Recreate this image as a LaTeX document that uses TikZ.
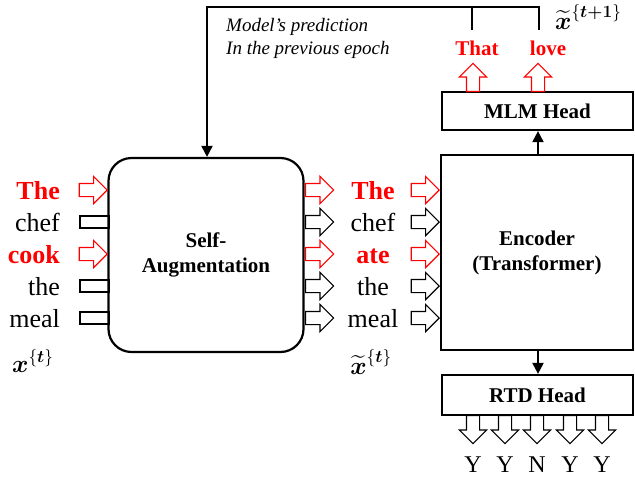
\documentclass[tikz,border=0pt]{standalone}
\usepackage{amsmath}
\usepackage{fontspec}
\setmainfont{Liberation Serif}
\usetikzlibrary{shapes.arrows,arrows.meta,positioning}

\begin{document}
\begin{tikzpicture}[
            x=1pt,y=-1pt,
            blk/.style={draw,line width=2.2pt,fill=white,align=center,inner sep=0pt,
                font=\fontsize{21}{25}\selectfont\bfseries},
            tok/.style={inner sep=0pt,font=\fontsize{26}{28}\selectfont},
            hl/.style={inner sep=0pt,text=red,font=\fontsize{26}{28}\selectfont\bfseries},
            barr/.style={single arrow,draw,line width=1.1pt,fill=white,inner sep=6pt,
                single arrow head extend=7pt,minimum height=28pt},
            rarr/.style={barr,draw=red},
            stub/.style={draw,line width=1.1pt,minimum width=29pt,minimum height=12pt,inner sep=0pt},
            conn/.style={line width=2pt},
            tip/.style={-{Triangle[length=11pt,width=11pt]}},
            lab/.style={inner sep=0pt,font=\fontsize{27}{29}\selectfont}
        ]
            \useasboundingbox (0,0) rectangle (635,480);

            % boxes
            \node[blk,rounded corners=23pt,minimum width=195pt,minimum height=194pt] (aug) at (206,255) {Self-\\Augmentation};
            \node[blk,minimum width=192pt,minimum height=195pt] (enc) at (537,252.5) {Encoder\\(Transformer)};
            \node[blk,minimum width=191pt,minimum height=38pt]  (mlm) at (537.5,111) {MLM Head};
            \node[blk,minimum width=191pt,minimum height=40pt]  (rtd) at (537.5,395) {RTD Head};

            % input tokens
            \node[hl, anchor=base east]  (i1) at (60,199) {The};
            \node[tok,anchor=base east]  (i2) at (60,231) {chef};
            \node[hl, anchor=base east]  (i3) at (60,263) {cook};
            \node[tok,anchor=base east]  (i4) at (60,295) {the};
            \node[tok,anchor=base east]  (i5) at (60,327) {meal};

            \node[rarr,anchor=tip] (ia1) at (108,190) {};
            \node[stub]            (ia2) at (94.5,222) {};
            \node[rarr,anchor=tip] (ia3) at (108,254) {};
            \node[stub]            (ia4) at (94.5,286) {};
            \node[stub]            (ia5) at (94.5,318) {};

            % augmented tokens
            \node[rarr,anchor=tail] (oa1) at (305,190) {};
            \node[barr,anchor=tail] (oa2) at (305,222) {};
            \node[rarr,anchor=tail] (oa3) at (305,254) {};
            \node[barr,anchor=tail] (oa4) at (305,286) {};
            \node[barr,anchor=tail] (oa5) at (305,318) {};

            \node[hl, anchor=base] (m1) at (373,199) {The};
            \node[tok,anchor=base] (m2) at (373,231) {chef};
            \node[hl, anchor=base] (m3) at (373,263) {ate};
            \node[tok,anchor=base] (m4) at (373,295) {the};
            \node[tok,anchor=base] (m5) at (373,327) {meal};

            \node[rarr,anchor=tip] (ea1) at (440,190) {};
            \node[barr,anchor=tip] (ea2) at (440,222) {};
            \node[rarr,anchor=tip] (ea3) at (440,254) {};
            \node[barr,anchor=tip] (ea4) at (440,286) {};
            \node[barr,anchor=tip] (ea5) at (440,318) {};

            \node[lab,anchor=base west] (xt)  at (12,372)  {$\boldsymbol{x}^{\{\boldsymbol{t}\}}$};
            \node[lab,anchor=base]      (xtt) at (371,374) {$\widetilde{\boldsymbol{x}}^{\{\boldsymbol{t}\}}$};

            % MLM outputs
            \node[rarr,anchor=tail,shape border rotate=90] (ua1) at (473,92) {};
            \node[rarr,anchor=tail,shape border rotate=90] (ua2) at (538,92) {};
            \node[hl,anchor=base,font=\fontsize{21}{24}\selectfont\bfseries] (that) at (477,55) {That};
            \node[hl,anchor=base,font=\fontsize{21}{24}\selectfont\bfseries] (love) at (548,55) {love};
            \node[lab,anchor=base west,font=\fontsize{23}{25}\selectfont] (xt1) at (555,29) {$\widetilde{\boldsymbol{x}}^{\{\boldsymbol{t+1}\}}$};

            % RTD outputs
            \node[barr,anchor=tail,shape border rotate=270] (da1) at (473,415) {};
            \node[barr,anchor=tail,shape border rotate=270] (da2) at (505,415) {};
            \node[barr,anchor=tail,shape border rotate=270] (da3) at (537,415) {};
            \node[barr,anchor=tail,shape border rotate=270] (da4) at (570,415) {};
            \node[barr,anchor=tail,shape border rotate=270] (da5) at (602,415) {};
            \node[tok,anchor=base,font=\fontsize{24}{26}\selectfont] (y1) at (473,472) {Y};
            \node[tok,anchor=base,font=\fontsize{24}{26}\selectfont] (y2) at (505,472) {Y};
            \node[tok,anchor=base,font=\fontsize{24}{26}\selectfont] (y3) at (537,472) {N};
            \node[tok,anchor=base,font=\fontsize{24}{26}\selectfont] (y4) at (570,472) {Y};
            \node[tok,anchor=base,font=\fontsize{24}{26}\selectfont] (y5) at (602,472) {Y};

            % feedback of the previous prediction
            \coordinate (tapL) at (472,30);
            \coordinate (tapR) at (539,30);
            \coordinate (fb)   at (207,7);
            \node[inner sep=0pt,anchor=base west,font=\fontsize{19}{22}\selectfont\itshape] (cap1) at (226,31) {Model’s prediction};
            \node[inner sep=0pt,anchor=base west,font=\fontsize{19}{22}\selectfont\itshape] (cap2) at (226,54) {In the previous epoch};

            \begin{scope}[conn]
                \draw (tapL) -- (tapL |- fb);
                \draw[tip] (tapR) |- (fb) -- (fb |- aug.north);
                \draw[tip] (enc.north -| 538,0) -- (mlm.south -| 538,0);
                \draw[tip] (enc.south -| 538,0) -- (rtd.north -| 538,0);
            \end{scope}
        \end{tikzpicture}
\end{document}
